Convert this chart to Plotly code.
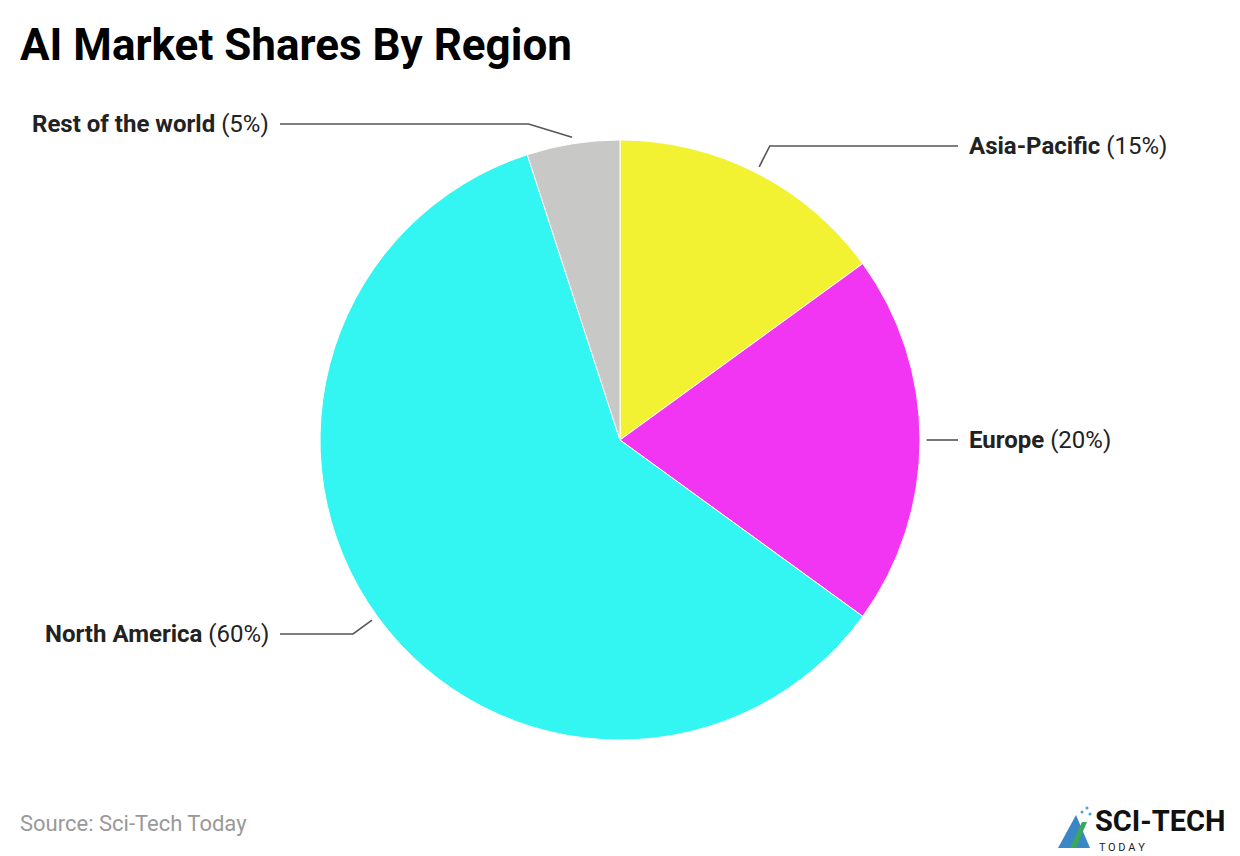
import numpy as np
import plotly.graph_objects as go

# ---- data ----
regions = ["Asia-Pacific", "Europe", "North America", "Rest of the world"]
shares = [15, 20, 60, 5]
colors = ["#f2f232", "#f235f2", "#33f5f2", "#c8c8c6"]

W, H = 1240, 856
OFF = 8  # page body margin in the browser
CX, CY, R = 620, 440, 300  # pie centre / radius in pixels (layout)

def px(x):
    return (x - OFF) / W

def py(y):
    return 1 - (y - OFF) / H

fig = go.Figure(go.Pie(
    labels=regions, values=shares, sort=False, direction="clockwise", rotation=0,
    marker=dict(colors=colors, line=dict(color="white", width=1)),
    textinfo="none", hoverinfo="skip",
    domain=dict(x=[px(CX - R), px(CX + R)], y=[py(CY + R), py(CY - R)]),
    showlegend=False,
))

# leader lines and labels, positioned from each slice's mid-angle
total = float(sum(shares))
cum = np.cumsum([0] + shares[:-1])
shapes, annotations = [], []
TOP_LIMIT = 124
for name, v, c0 in zip(regions, shares, cum):
    mid = 2 * np.pi * (c0 + v / 2) / total
    sx, sy = np.sin(mid), -np.cos(mid)
    x0, y0 = CX + 1.022 * R * sx, CY + 1.022 * R * sy
    ex, ey = CX + 1.1 * R * sx, CY + 1.1 * R * sy
    side = 1 if sx >= -1e-9 else -1
    if abs(sx) > 0.999:
        ex, ey = x0, y0
    if ey < TOP_LIMIT:
        ey = TOP_LIMIT
        ex = x0 + side * 3.3 * abs(y0 - ey)
    lx = 958 if side > 0 else 280
    shapes.append(dict(type="path", xref="paper", yref="paper",
                       path=f"M {px(x0)},{py(y0)} L {px(ex)},{py(ey)} L {px(lx)},{py(ey)}",
                       line=dict(color="#555555", width=1.6)))
    tx = lx + 9 * side
    annotations.append(dict(
        x=px(tx), y=py(ey), xref="paper", yref="paper", showarrow=False,
        xanchor="left" if side > 0 else "right", yanchor="middle",
        text=f"<b>{name}</b> ({v}%)",
        font=dict(family="Roboto", size=24, color="#222222")))

annotations.append(dict(x=px(18), y=py(45), xref="paper", yref="paper", showarrow=False,
                        xanchor="left", yanchor="middle", text="<b>AI Market Shares By Region</b>",
                        font=dict(family="Roboto", size=44, color="#000000")))
annotations.append(dict(x=px(18), y=py(823), xref="paper", yref="paper", showarrow=False,
                        xanchor="left", yanchor="middle", text="Source: Sci-Tech Today",
                        font=dict(family="Roboto", size=22, color="#999999")))
# logo
annotations.append(dict(x=px(1094), y=py(821), xref="paper", yref="paper", showarrow=False,
                        xanchor="left", yanchor="middle", text="<b>SCI-TECH</b>", borderpad=0,
                        font=dict(family="Roboto", size=29, color="#111111")))
annotations.append(dict(x=px(1098), y=py(847), xref="paper", yref="paper", showarrow=False,
                        xanchor="left", yanchor="middle", text="T O D A Y", borderpad=0,
                        font=dict(family="Roboto", size=11, color="#222222")))
shapes.append(dict(type="path", xref="paper", yref="paper",
                   path=f"M {px(1058)},{py(848)} L {px(1076)},{py(815)} L {px(1090)},{py(848)} Z",
                   fillcolor="#3a87c8", line=dict(width=0)))
shapes.append(dict(type="path", xref="paper", yref="paper",
                   path=f"M {px(1070)},{py(848)} L {px(1082)},{py(822)} L {px(1087)},{py(822)} L {px(1076)},{py(848)} Z",
                   fillcolor="#3aa85a", line=dict(width=0)))
for (bx, by) in [(1082, 812), (1087, 808), (1090, 814)]:
    shapes.append(dict(type="circle", xref="paper", yref="paper",
                       x0=px(bx - 1.5), x1=px(bx + 1.5), y0=py(by + 1.5), y1=py(by - 1.5),
                       fillcolor="#4aa0d8", line=dict(width=0)))

fig.update_layout(width=W, height=H, margin=dict(l=0, r=0, t=0, b=0),
                  paper_bgcolor="white", plot_bgcolor="white",
                  shapes=shapes, annotations=annotations, hovermode=False)
fig.write_html("out.html")
